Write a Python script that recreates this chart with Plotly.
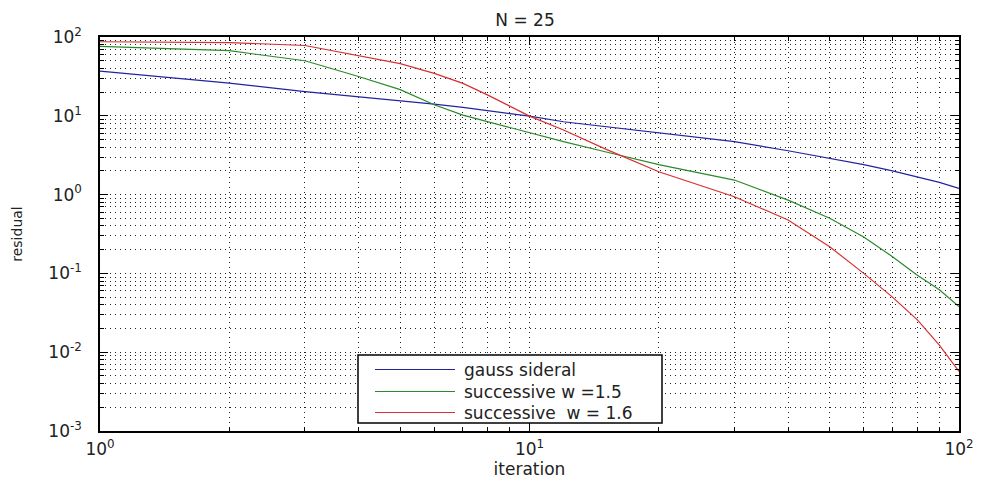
import plotly.graph_objects as go

iterations = [1, 2, 3, 4, 5, 6, 7, 8, 9, 10, 12, 15, 20, 30, 40, 50, 60, 70, 80, 90, 100]
gauss_seidel = [37, 26, 20.3, 17.5, 15.6, 14.1, 12.8, 11.6, 10.7, 9.9, 8.4, 7.3, 6.0, 4.7,
                3.6, 2.9, 2.4, 2.0, 1.68, 1.43, 1.2]
sor_15 = [76, 67, 50, 31.5, 21.5, 13.8, 10.2, 8.4, 7.1, 6.0, 4.7, 3.5, 2.4, 1.53,
          0.85, 0.50, 0.29, 0.163, 0.095, 0.062, 0.038]
sor_16 = [87, 85, 78, 58, 46, 34.5, 25.8, 18.3, 13.2, 9.9, 6.6, 3.8, 1.95, 0.94,
          0.476, 0.218, 0.10, 0.05, 0.0257, 0.0123, 0.0057]

series_names = ["gauss sideral", "successive w =1.5", "successive  w = 1.6"]
series_colors = ["#2323a0", "#2a8a2a", "#d83030"]

x_tickvals = [1, 10, 100]
x_ticktext = ["10<sup>0</sup>", "10<sup>1</sup>", "10<sup>2</sup>"]
y_tickvals = [1e-3, 1e-2, 1e-1, 1, 10, 100]
y_ticktext = ["10<sup>-3</sup>", "10<sup>-2</sup>", "10<sup>-1</sup>",
              "10<sup>0</sup>", "10<sup>1</sup>", "10<sup>2</sup>"]

x_minor = [m * 10 ** d for d in range(0, 2) for m in range(2, 10)]
y_minor = [m * 10.0 ** d for d in range(-3, 2) for m in range(2, 10)]

FONT = "DejaVu Sans"
GRID = dict(showgrid=True, gridcolor="#222222", griddash="1px,4px", gridwidth=1)

# page body has an 8px default margin, compensate
BODY = 8
W, H = 981 - BODY, 481 - BODY
ML, MR, MT, MB = 100 - BODY, 22, 37 - BODY, 50
PW, PH = W - ML - MR, H - MT - MB   # plot area size in px


def px_x(px):   # absolute window px -> paper x
    return (px - 100) / PW


def px_y(py):   # absolute window px -> paper y
    return (431 - py) / PH


fig = go.Figure()
for ys, name, col in zip([gauss_seidel, sor_15, sor_16], series_names, series_colors):
    fig.add_trace(go.Scatter(x=iterations, y=ys, mode="lines", name=name,
                             line=dict(color=col, width=1.2), showlegend=False))

axis_common = dict(
    type="log", automargin=False,
    showline=True, linecolor="black", linewidth=1.5, mirror="allticks",
    ticks="inside", ticklen=8, tickcolor="black",
    zeroline=False,
    tickfont=dict(family=FONT, size=17, color="#222"),
    **GRID,
)

fig.update_xaxes(
    range=[0, 2], tickvals=x_tickvals, ticktext=x_ticktext,
    minor=dict(tickvals=x_minor, ticks="inside", ticklen=4, tickcolor="black", **GRID),
    title=dict(text="iteration", font=dict(family=FONT, size=17, color="#222"), standoff=0),
    ticklabelstandoff=2,
    **axis_common,
)
fig.update_yaxes(
    range=[-3, 2], tickvals=y_tickvals, ticktext=y_ticktext,
    minor=dict(tickvals=y_minor, ticks="inside", ticklen=4, tickcolor="black", **GRID),
    title=dict(text="residual", font=dict(family=FONT, size=14, color="#222"), standoff=22),
    ticklabelstandoff=13,
    **axis_common,
)

# custom legend box (MATLAB style)
fig.add_shape(type="rect", xref="paper", yref="paper",
              x0=px_x(358), x1=px_x(662), y0=px_y(423), y1=px_y(355),
              line=dict(color="black", width=1.5), fillcolor="white", layer="above")
row_y = [369.5, 391.5, 412.5]
for ry, name, col in zip(row_y, series_names, series_colors):
    fig.add_shape(type="line", xref="paper", yref="paper",
                  x0=px_x(375), x1=px_x(455), y0=px_y(ry), y1=px_y(ry),
                  line=dict(color=col, width=1.2), layer="above")
    fig.add_annotation(xref="paper", yref="paper", x=px_x(462), y=px_y(ry),
                       xanchor="left", yanchor="middle", showarrow=False,
                       text=name.replace("  ", "&nbsp; "),
                       font=dict(family=FONT, size=17, color="#222"))

fig.update_layout(
    width=W, height=H,
    margin=dict(l=ML, r=MR, t=MT, b=MB),
    paper_bgcolor="white", plot_bgcolor="white",
    title=dict(text="N = 25", x=(525 - BODY) / W, xanchor="center",
               y=1 - (20 - BODY) / H, yanchor="middle",
               font=dict(family=FONT, size=17, color="#222")),
    showlegend=False,
)

fig.write_html("out.html")
